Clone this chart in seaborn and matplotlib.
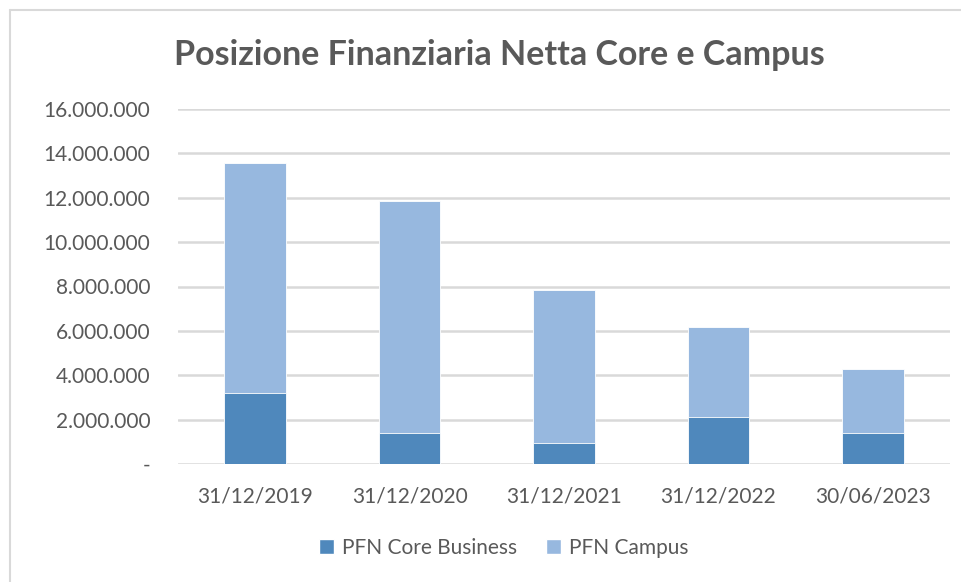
import pandas as pd
import matplotlib
matplotlib.use("Agg")
import matplotlib.pyplot as plt
import seaborn as sns
from matplotlib.ticker import FuncFormatter
from matplotlib.patches import Patch
from matplotlib.lines import Line2D

# data
dates = ["31/12/2019", "31/12/2020", "31/12/2021", "31/12/2022", "30/06/2023"]
core_business = [3200000, 1400000, 950000, 2120000, 1400000]
campus = [10360000, 10450000, 6890000, 4050000, 2880000]

df = pd.DataFrame({"data": dates, "core": core_business, "campus": campus})
df["totale"] = df["core"] + df["campus"]

dark_blue = "#4F88BC"
light_blue = "#97B8DF"
grey_txt = "#595959"
grid_col = "#D9D9D9"

sns.set_style("white")
plt.rcParams["font.family"] = ["Lato", "DejaVu Sans"]

fig = plt.figure(figsize=(9.61, 5.82), dpi=100)
ax = fig.add_axes([178 / 961, 1 - 464 / 582, (950 - 178) / 961, (464 - 109) / 582])

# stacked bars: total in light colour, core on top of it in dark colour
sns.barplot(data=df, x="data", y="totale", color=light_blue, width=0.4,
            saturation=1, edgecolor="white", linewidth=0.6, ax=ax, zorder=3)
sns.barplot(data=df, x="data", y="core", color=dark_blue, width=0.4,
            saturation=1, edgecolor="white", linewidth=0.6, ax=ax, zorder=4)

ax.set_ylim(0, 16000000)
ax.set_yticks(range(0, 16000001, 2000000))
ax.yaxis.set_major_formatter(FuncFormatter(
    lambda v, p: "-" if v == 0 else f"{int(v):,}".replace(",", ".")))
ax.grid(axis="y", color=grid_col, linewidth=1.8, zorder=0)
ax.set_axisbelow(True)
sns.despine(ax=ax, left=True, bottom=True)
ax.tick_params(axis="both", length=0, labelsize=15, colors=grey_txt)
ax.tick_params(axis="y", pad=20)
ax.tick_params(axis="x", pad=16)
ax.set_xlabel("")
ax.set_ylabel("")

fig.text(499 / 961, 1 - 55 / 582, "Posizione Finanziaria Netta Core e Campus",
         ha="center", va="center", fontsize=24.5, fontweight="bold", color=grey_txt)

handles = [Patch(facecolor=dark_blue, label="PFN Core Business"),
           Patch(facecolor=light_blue, label="PFN Campus")]
fig.legend(handles=handles, loc="center", bbox_to_anchor=(504 / 961, 1 - 548 / 582),
           ncol=2, frameon=False, fontsize=15, handlelength=0.7, handleheight=0.7,
           handletextpad=0.4, columnspacing=1.4, labelcolor=grey_txt)

# outer chart frame (top and left edges visible in the reference)
fig.add_artist(Line2D([10 / 961, 10 / 961], [0, 1 - 10 / 582], color=grid_col, lw=1.5))
fig.add_artist(Line2D([10 / 961, 1], [1 - 10 / 582, 1 - 10 / 582], color=grid_col, lw=1.5))

fig.savefig("out.png", dpi=100)
